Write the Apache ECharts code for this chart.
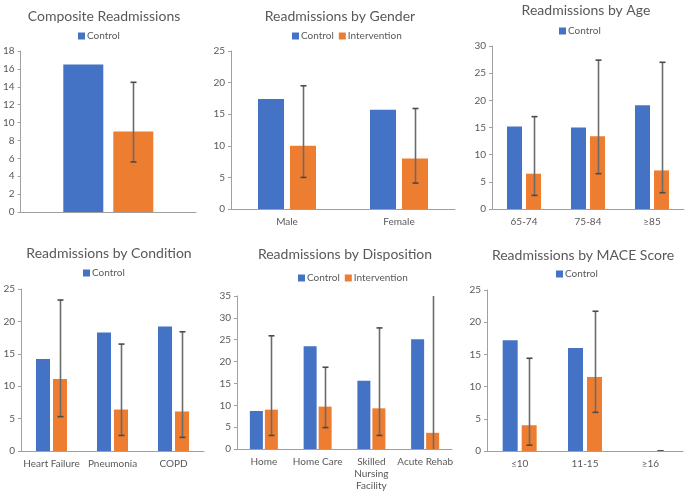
<!DOCTYPE html>
<html><head><meta charset="utf-8">
<script src="https://cdn.jsdelivr.net/npm/echarts@6/dist/echarts.min.js"></script>
<style>html,body{margin:0;padding:0;background:#fff}#c{width:689px;height:492px}</style>
</head><body><div id="c"></div>
<script>
// ---- Data ----
const p1Title = 'Composite Readmissions';
const p1Cats = [''];
const p1Control = [16.5];
const p1Interv = [9.0];
const p1ErrLow = [5.6];
const p1ErrHigh = [14.5];
const p1Ticks = {max: 18, step: 2};

const p2Title = 'Readmissions by Gender';
const p2Cats = ['Male', 'Female'];
const p2Control = [17.4, 15.7];
const p2Interv = [10.0, 8.0];
const p2ErrLow = [5.0, 4.1];
const p2ErrHigh = [19.5, 15.9];
const p2Ticks = {max: 25, step: 5};

const p3Title = 'Readmissions by Age';
const p3Cats = ['65-74', '75-84', '≥85'];
const p3Control = [15.2, 15.0, 19.1];
const p3Interv = [6.5, 13.4, 7.1];
const p3ErrLow = [2.5, 6.5, 3.0];
const p3ErrHigh = [17.0, 27.4, 27.0];
const p3Ticks = {max: 30, step: 5};

const p4Title = 'Readmissions by Condition';
const p4Cats = ['Heart Failure', 'Pneumonia', 'COPD'];
const p4Control = [14.2, 18.3, 19.2];
const p4Interv = [11.1, 6.4, 6.1];
const p4ErrLow = [5.3, 2.4, 2.1];
const p4ErrHigh = [23.3, 16.5, 18.4];
const p4Ticks = {max: 25, step: 5};

const p5Title = 'Readmissions by Disposition';
const p5Cats = ['Home', 'Home Care', 'Skilled\nNursing\nFacility', 'Acute Rehab'];
const p5Control = [8.7, 23.5, 15.6, 25.1];
const p5Interv = [9.0, 9.7, 9.3, 3.7];
const p5ErrLow = [3.1, 4.9, 3.1, -4];
const p5ErrHigh = [25.9, 18.7, 27.7, 40];
const p5Ticks = {max: 35, step: 5};

const p6Title = 'Readmissions by MACE Score';
const p6Cats = ['≤10', '11-15', '≥16'];
const p6Control = [17.2, 16.0, 0];
const p6Interv = [4.0, 11.5, 0];
const p6ErrLow = [0.9, 6.0, 0];
const p6ErrHigh = [14.4, 21.7, 0];
const p6Ticks = {max: 25, step: 5};

// ---- Layout ----
const FONT = 'Lato, "Liberation Sans", sans-serif';
const TXT = '#595959';
const BLUE = '#4472C4', ORANGE = '#ED7D31';

const panels = [
  {title: p1Title, cats: p1Cats, c: p1Control, i: p1Interv, lo: p1ErrLow, hi: p1ErrHigh, t: p1Ticks,
   grid: [19, 51, 177, 161], bw: 40, gap: 10, titleXY: [104, 9], legXY: [78, 31], legend: ['Control']},
  {title: p2Title, cats: p2Cats, c: p2Control, i: p2Interv, lo: p2ErrLow, hi: p2ErrHigh, t: p2Ticks,
   grid: [231, 51, 224, 158], bw: 26, gap: 6, titleXY: [340, 9], legXY: [292, 31], legend: ['Control', 'Intervention']},
  {title: p3Title, cats: p3Cats, c: p3Control, i: p3Interv, lo: p3ErrLow, hi: p3ErrHigh, t: p3Ticks,
   grid: [492, 46, 192, 163], bw: 15, gap: 4, titleXY: [586, 3], legXY: [559, 26], legend: ['Control']},
  {title: p4Title, cats: p4Cats, c: p4Control, i: p4Interv, lo: p4ErrLow, hi: p4ErrHigh, t: p4Ticks,
   grid: [21, 289, 183, 162], bw: 14, gap: 3, titleXY: [109, 246], legXY: [83, 268], legend: ['Control']},
  {title: p5Title, cats: p5Cats, c: p5Control, i: p5Interv, lo: p5ErrLow, hi: p5ErrHigh, t: p5Ticks,
   grid: [237, 296, 215, 153], bw: 13, gap: 2, titleXY: [345, 247], legXY: [298, 273], legend: ['Control', 'Intervention']},
  {title: p6Title, cats: p6Cats, c: p6Control, i: p6Interv, lo: p6ErrLow, hi: p6ErrHigh, t: p6Ticks,
   grid: [487, 290, 196, 161], bw: 15, gap: 4, titleXY: [583, 248], legXY: [556, 269], legend: ['Control']}
];

const option = {
  animation: false,
  backgroundColor: '#fff',
  title: [], legend: [], grid: [], xAxis: [], yAxis: [], series: []
};

panels.forEach((p, k) => {
  option.title.push({
    text: p.title, left: p.titleXY[0], top: p.titleXY[1], textAlign: 'center', padding: 0,
    textStyle: {fontFamily: FONT, fontSize: 14, fontWeight: 'normal', color: TXT}
  });
  option.legend.push({
    data: p.legend, left: p.legXY[0], top: p.legXY[1], orient: 'horizontal',
    icon: 'rect', itemWidth: 7, itemHeight: 7, itemGap: 5, padding: 0,
    textStyle: {fontFamily: FONT, fontSize: 10, color: TXT, padding: [0, 0, 0, -3]},
    selectedMode: false
  });
  option.grid.push({left: p.grid[0], top: p.grid[1], width: p.grid[2], height: p.grid[3], containLabel: false});
  option.xAxis.push({
    type: 'category', gridIndex: k, data: p.cats,
    axisLine: {show: true, lineStyle: {color: '#a0a0a0', width: 1}},
    axisTick: {show: false},
    axisLabel: {fontFamily: FONT, fontSize: 10, color: TXT, margin: 7, lineHeight: 12, interval: 0},
    splitLine: {show: false}
  });
  option.yAxis.push({
    type: 'value', gridIndex: k, min: 0, max: p.t.max, interval: p.t.step,
    axisLine: {show: true, lineStyle: {color: '#a0a0a0', width: 1}},
    axisTick: {show: true, length: 3, lineStyle: {color: '#a0a0a0'}},
    axisLabel: {fontFamily: FONT, fontSize: 10, color: TXT, margin: 6},
    splitLine: {show: false}
  });
  option.series.push({
    name: 'Control', type: 'bar', xAxisIndex: k, yAxisIndex: k, data: p.c,
    barWidth: p.bw, barGap: (p.gap / p.bw * 100) + '%',
    itemStyle: {color: BLUE}
  });
  option.series.push({
    name: 'Intervention', type: 'bar', xAxisIndex: k, yAxisIndex: k, data: p.i,
    barWidth: p.bw,
    itemStyle: {color: ORANGE}
  });
  const off = (p.bw + p.gap) / 2;
  option.series.push({
    type: 'custom', xAxisIndex: k, yAxisIndex: k, clip: true,
    data: p.cats.map((_, j) => [j, p.lo[j], p.hi[j]]),
    encode: {x: 0, y: [1, 2]},
    renderItem: function (params, api) {
      const j = api.value(0);
      const a = api.coord([j, api.value(1)]);
      const b = api.coord([j, api.value(2)]);
      const x = Math.round(a[0] + off) + 0.5;
      const st = {stroke: '#6b6b6b', lineWidth: 1.6};
      const cw = 3;
      return {type: 'group', children: [
        {type: 'line', shape: {x1: x, y1: a[1], x2: x, y2: b[1]}, style: st},
        {type: 'line', shape: {x1: x - cw, y1: a[1], x2: x + cw, y2: a[1]}, style: {stroke: '#4a4a4a', lineWidth: 1.6}},
        {type: 'line', shape: {x1: x - cw, y1: b[1], x2: x + cw, y2: b[1]}, style: {stroke: '#4a4a4a', lineWidth: 1.6}}
      ]};
    },
    z: 5
  });
});

const chart = echarts.init(document.getElementById('c'), null, {renderer: 'canvas'});
chart.setOption(option);
</script>
</body></html>
